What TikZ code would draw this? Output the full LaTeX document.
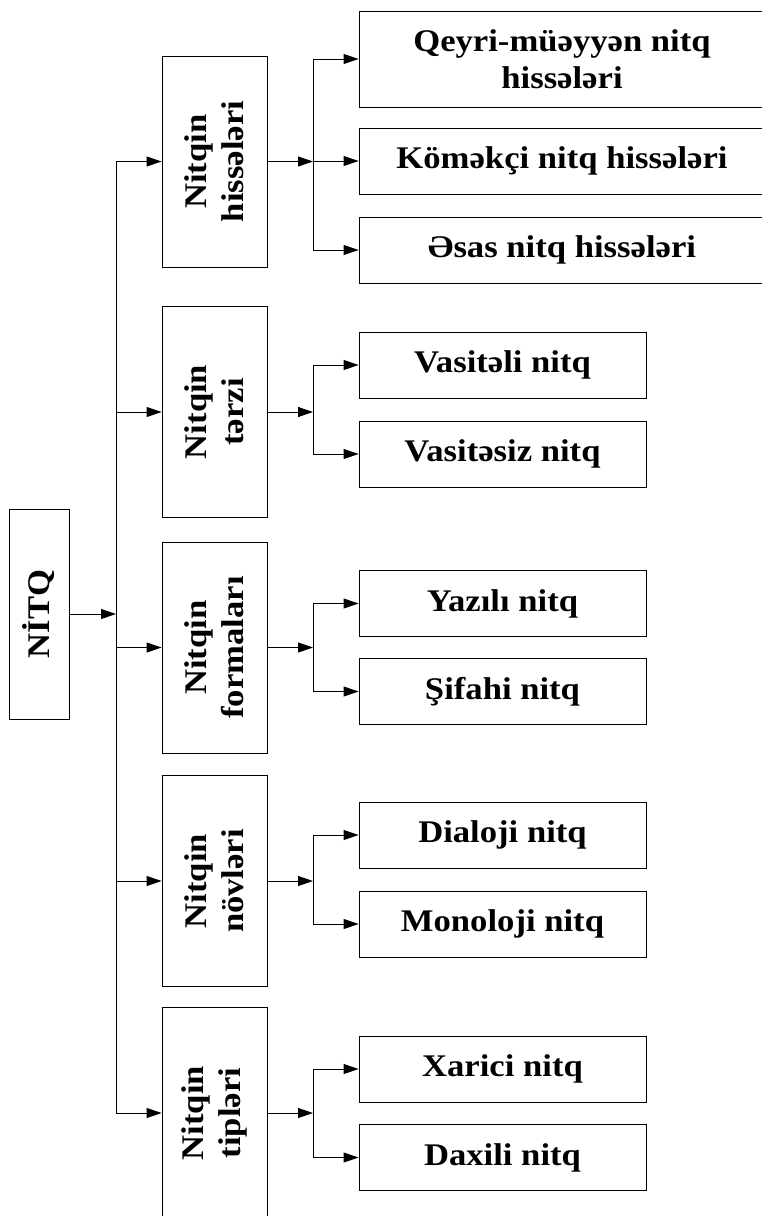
\documentclass[tikz,border=0pt]{standalone}
\usepackage{fontspec}
\setmainfont{Liberation Serif}[FakeStretch=1.1]
\usetikzlibrary{arrows.meta}

\begin{document}
\begin{tikzpicture}[x=1pt, y=-1pt, ->, >={Triangle[length=15pt,width=10pt]}, line width=0.9pt,
    txt/.style={font=\bfseries\fontsize{31.5}{37}\selectfont, align=center, inner sep=0pt},
    leaf/.style={draw, txt, minimum width=287pt, minimum height=66pt},
    group/.style={draw, txt, rotate=90, minimum width=211pt, minimum height=105pt}]
  \useasboundingbox (0,0) rectangle (761,1216);

  % root
  \node[draw, txt, rotate=90, minimum width=210pt, minimum height=60pt] (N) at (39,614) {NİTQ};
  \coordinate (J) at (116,614);

  % groups
  \node[group] (H) at (214.5,161.5) {Nitqin\\hissələri};
  \node[group] (T) at (214.5,412) {Nitqin\\tərzi};
  \node[group] (F) at (214.5,647.5) {Nitqin\\formaları};
  \node[group] (V) at (214.5,881) {Nitqin\\növləri};
  \node[group] (P) at (214.5,1113) {Nitqin\\tipləri};

  % leaves
  \node[leaf, minimum width=406pt, minimum height=96pt] (H1) at (562,59) {Qeyri-müəyyən nitq\\hissələri};
  \node[leaf, minimum width=406pt] (H2) at (562,161) {Köməkçi nitq hissələri};
  \node[leaf, minimum width=406pt] (H3) at (562,250) {Əsas nitq hissələri};
  \node[leaf] (T1) at (502.5,365) {Vasitəli nitq};
  \node[leaf] (T2) at (502.5,454) {Vasitəsiz nitq};
  \node[leaf] (F1) at (502.5,603.5) {Yazılı nitq};
  \node[leaf] (F2) at (502.5,691.5) {Şifahi nitq};
  \node[leaf] (V1) at (502.5,835) {Dialoji nitq};
  \node[leaf] (V2) at (502.5,924) {Monoloji nitq};
  \node[leaf] (P1) at (502.5,1069) {Xarici nitq};
  \node[leaf] (P2) at (502.5,1157.5) {Daxili nitq};

  % trunk
  \path (N.south) edge (J);
  \draw[-] (J |- H.north) -- (J |- P.north);
  \path (J |- H.north) edge (H.north);
  \path (J |- T.north) edge (T.north);
  \path (J |- F.north) edge (F.north);
  \path (J |- V.north) edge (V.north);
  \path (J |- P.north) edge (P.north);

  % forks
  \coordinate (K) at (313,0);
  \path (H.south) edge (K |- H.south);
  \draw[-] (K |- H1.west) -- (K |- H3.west);
  \path (K |- H1.west) edge (H1.west);
  \path (K |- H2.west) edge (H2.west);
  \path (K |- H3.west) edge (H3.west);

  \path (T.south) edge (K |- T.south);
  \draw[-] (K |- T1.west) -- (K |- T2.west);
  \path (K |- T1.west) edge (T1.west);
  \path (K |- T2.west) edge (T2.west);

  \path (F.south) edge (K |- F.south);
  \draw[-] (K |- F1.west) -- (K |- F2.west);
  \path (K |- F1.west) edge (F1.west);
  \path (K |- F2.west) edge (F2.west);

  \path (V.south) edge (K |- V.south);
  \draw[-] (K |- V1.west) -- (K |- V2.west);
  \path (K |- V1.west) edge (V1.west);
  \path (K |- V2.west) edge (V2.west);

  \path (P.south) edge (K |- P.south);
  \draw[-] (K |- P1.west) -- (K |- P2.west);
  \path (K |- P1.west) edge (P1.west);
  \path (K |- P2.west) edge (P2.west);
\end{tikzpicture}
\end{document}
